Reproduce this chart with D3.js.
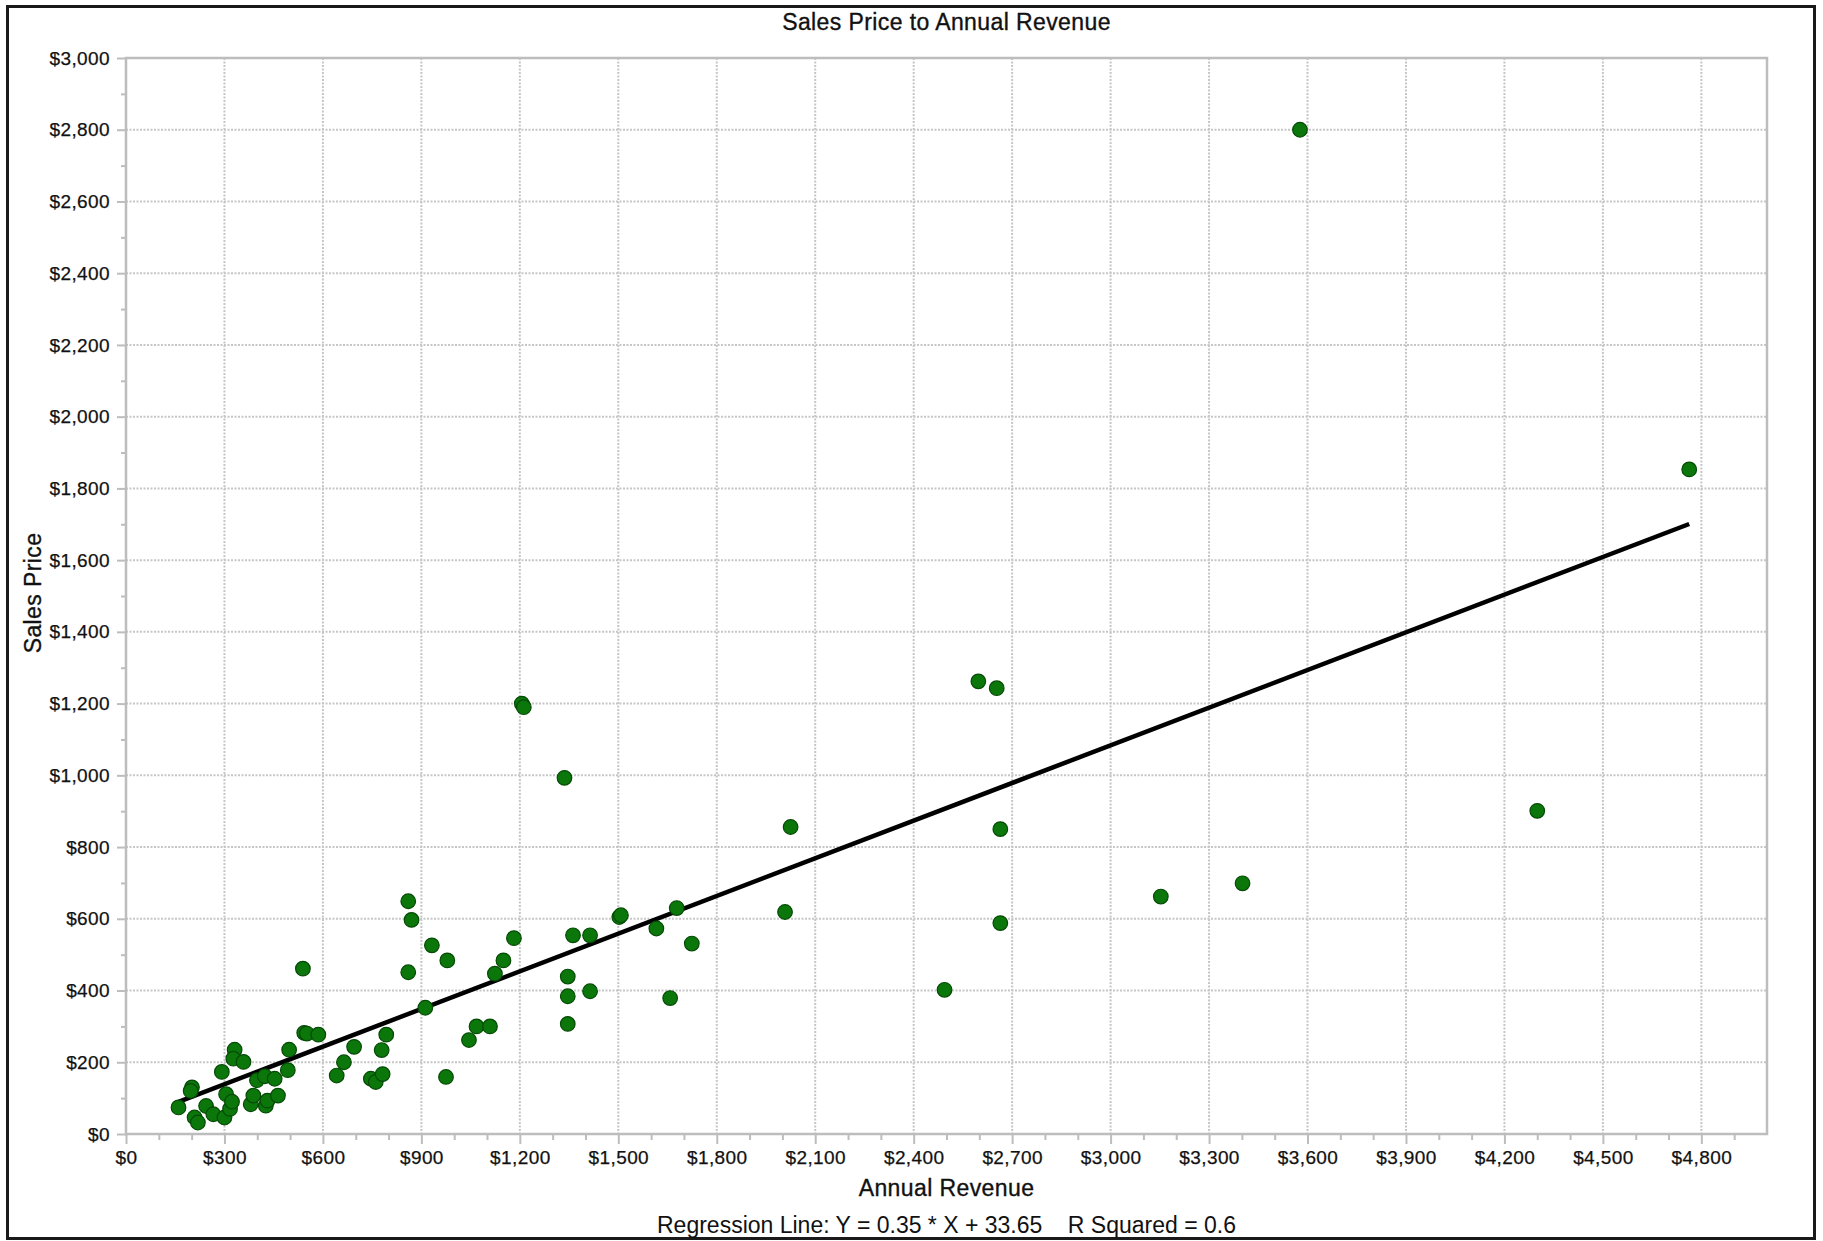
<!DOCTYPE html>
<html>
<head>
<meta charset="utf-8">
<script src="https://cdn.jsdelivr.net/npm/d3@7"></script>
<style>
  body { margin: 0; background: #fff; }
  text { font-family: "Liberation Sans", Arial, sans-serif; fill: #111; }
</style>
</head>
<body>
<div id="chart"></div>
<script>
// data (Annual Revenue, Sales Price)
var revenue = [160, 201, 197, 209, 219, 244, 266, 292, 300, 305, 317, 323, 331, 327, 358, 380, 388, 399, 423, 426,
               431, 453, 463, 493, 497, 539, 543, 551, 586, 642, 664, 695, 746, 761, 782, 779, 793, 860, 870, 860,
               912, 932, 979, 975, 1045, 1068, 1109, 1124, 1150, 1182,
               1206, 1212, 1336, 2025, 1362, 1414, 1503, 1508, 1616, 1678, 1724, 1346, 1346, 1414, 1346, 1658, 2008, 2494,
               2597, 2653, 2664, 2664, 3153, 3402, 4300, 3577, 4763];
var salesPrice = [74, 130, 120, 46, 32, 78, 55, 173, 46, 111, 70, 90, 235, 210, 201, 83, 107, 150, 161, 79,
                  93, 154, 107, 178, 235, 461, 282, 280, 277, 163, 200, 243, 154, 145, 167, 234, 277, 649, 597, 451,
                  352, 526, 484, 159, 262, 300, 300, 447, 484, 546,
                  1200, 1190, 993, 856, 554, 554, 605, 610, 573, 630, 531, 439, 384, 398, 307, 379, 619, 402,
                  1262, 1243, 850, 588, 662, 699, 901, 2800, 1853];

// regression as printed under the chart
var slope = 0.35;
var intercept = 33.65;
var rSquared = 0.6;

var xTicks = d3.range(0, 4801, 300);
var xMinor = d3.range(100, 5000, 100).filter(function (d) { return d % 300 != 0; });
var yTicks = d3.range(0, 3001, 200);
var yMinor = d3.range(100, 3000, 200);

var W = 1823, H = 1241;
var margin = {top: 58, left: 126, right: 56, bottom: 107};
var width = W - margin.left - margin.right,
    height = H - margin.top - margin.bottom;

var svgRoot = d3.select("#chart")
  .append("svg")
    .attr("width", W)
    .attr("height", H);

svgRoot.append("rect")
    .attr("x", 7.5).attr("y", 6.5)
    .attr("width", 1807).attr("height", 1232)
    .attr("fill", "#fff")
    .attr("stroke", "#1a1a1a")
    .attr("stroke-width", 3);

var svg = svgRoot.append("g")
    .attr("transform", "translate(" + margin.left + "," + margin.top + ")");

var x = d3.scaleLinear().domain([0, 5000]).range([0, width]);
var y = d3.scaleLinear().domain([0, 3000]).range([height, 0]);

// grid
svg.append("g").selectAll("line")
  .data(xTicks.slice(1))
  .enter().append("line")
    .attr("x1", function (d) { return x(d); })
    .attr("x2", function (d) { return x(d); })
    .attr("y1", 0).attr("y2", height)
    .attr("stroke", "#c6c6c6")
    .attr("stroke-width", 2)
    .attr("stroke-dasharray", "2,1.5");

svg.append("g").selectAll("line")
  .data(yTicks.slice(1))
  .enter().append("line")
    .attr("x1", 0).attr("x2", width)
    .attr("y1", function (d) { return y(d); })
    .attr("y2", function (d) { return y(d); })
    .attr("stroke", "#c6c6c6")
    .attr("stroke-width", 2)
    .attr("stroke-dasharray", "2,1.5");

// frame
svg.append("rect")
    .attr("width", width).attr("height", height)
    .attr("fill", "none")
    .attr("stroke", "#bdbdbd")
    .attr("stroke-width", 2.5);

// axes
var fmt = function (d) { return "$" + d3.format(",")(d); };

var xAxis = svg.append("g")
    .attr("transform", "translate(0," + height + ")")
    .call(d3.axisBottom(x).tickValues(xTicks).tickSize(10).tickPadding(7).tickFormat(fmt));
var xAxisMinor = svg.append("g")
    .attr("transform", "translate(0," + height + ")")
    .call(d3.axisBottom(x).tickValues(xMinor).tickSize(6).tickFormat(""));

var yAxis = svg.append("g")
    .call(d3.axisLeft(y).tickValues(yTicks).tickSize(9).tickPadding(7).tickFormat(fmt));
var yAxisMinor = svg.append("g")
    .call(d3.axisLeft(y).tickValues(yMinor).tickSize(5).tickFormat(""));

[xAxis, xAxisMinor, yAxis, yAxisMinor].forEach(function (a) {
  a.select(".domain").remove();
  a.selectAll(".tick line").attr("stroke", "#bdbdbd").attr("stroke-width", 2);
  a.selectAll(".tick text")
    .attr("font-family", "Liberation Sans, Arial, sans-serif")
    .attr("font-size", "19px")
    .attr("letter-spacing", "0.4px")
    .attr("fill", "#111")
    .attr("stroke", "#111")
    .attr("stroke-width", 0.25);
});

// regression line over the data range
var ext = d3.extent(revenue);
var line = d3.line()
    .x(function (d) { return x(d); })
    .y(function (d) { return y(slope * d + intercept); });

svg.append("path")
    .datum(ext)
    .attr("d", line)
    .attr("fill", "none")
    .attr("stroke", "#000")
    .attr("stroke-width", 4.5);

// points
var points = revenue.map(function (d, i) { return {revenue: d, price: salesPrice[i]}; });

svg.append("g").selectAll("circle")
  .data(points)
  .enter().append("circle")
    .attr("cx", function (d) { return x(d.revenue); })
    .attr("cy", function (d) { return y(d.price); })
    .attr("r", 7.3)
    .attr("fill", "#0b770b")
    .attr("stroke", "#054a05")
    .attr("stroke-width", 1.2);

// titles
var cx = margin.left + width / 2;

function label(sel) {
  return sel.attr("text-anchor", "middle")
    .attr("font-size", "23px")
    .attr("stroke", "#111")
    .attr("stroke-width", 0.35);
}

label(svgRoot.append("text"))
    .attr("x", cx).attr("y", 30)
    .attr("letter-spacing", "0.4px")
    .text("Sales Price to Annual Revenue");

label(svgRoot.append("text"))
    .attr("x", cx).attr("y", 1196)
    .attr("letter-spacing", "0.4px")
    .text("Annual Revenue");

label(svgRoot.append("text"))
    .attr("transform", "translate(41," + 593 + ") rotate(-90)")
    .attr("letter-spacing", "0.4px")
    .text("Sales Price");

svgRoot.append("text")
    .attr("x", cx).attr("y", 1233)
    .attr("text-anchor", "middle")
    .attr("font-size", "23px")
    .style("white-space", "pre")
    .text("Regression Line: Y = " + slope + " * X + " + intercept + "    R Squared = " + rSquared);
</script>
</body>
</html>
